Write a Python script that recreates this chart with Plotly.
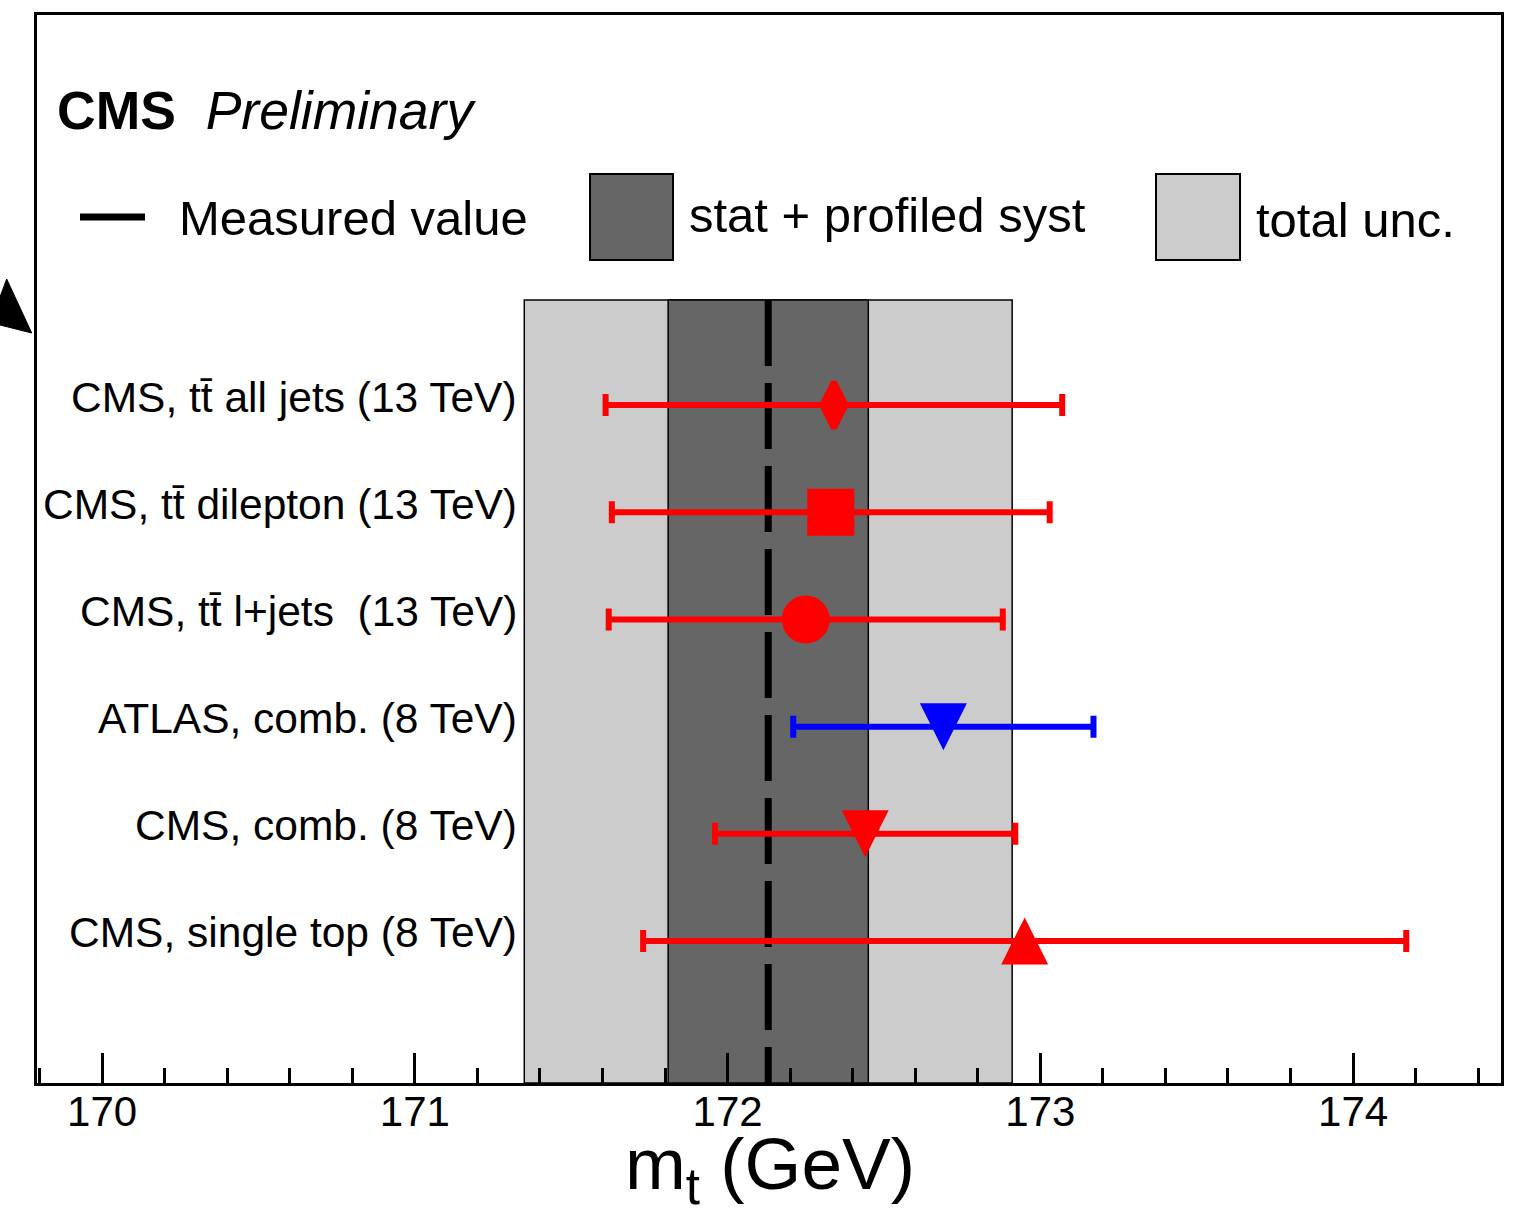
import plotly.graph_objects as go

# ---------------- data ----------------
categories = [
    "CMS, tt\u0304 all jets (13 TeV)",
    "CMS, tt\u0304 dilepton (13 TeV)",
    "CMS, tt\u0304 l+jets \u00a0(13 TeV)",
    "ATLAS, comb. (8 TeV)",
    "CMS, comb. (8 TeV)",
    "CMS, single top (8 TeV)",
]
values = [172.34, 172.33, 172.25, 172.69, 172.44, 172.95]
err_plus = [0.73, 0.70, 0.63, 0.48, 0.48, 1.22]
err_minus = [0.73, 0.70, 0.63, 0.48, 0.48, 1.22]
colors = ["#ff0000", "#ff0000", "#ff0000", "#0000ff", "#ff0000", "#ff0000"]

measured = 172.13
stat_prof_unc = 0.32
total_unc = 0.78

x_ticks = [170, 171, 172, 173, 174]
x_title = "m<sub>t</sub> (GeV)"

# ---------------- styles ----------------
FONT = "Liberation Sans, Arial, Helvetica, sans-serif"
W, H = 1538, 1211
ML, MR, MT, MB = 37, 37, 15, 128
PW, PH = W - ML - MR, H - MT - MB

def px(x):
    return (x - ML) / PW

def py(y):
    return (H - MB - y) / PH

marker_styles = [
    dict(symbol="diamond-tall", size=33, line=dict(width=6)),
    dict(symbol="square", size=47, line=dict(width=0)),
    dict(symbol="circle", size=48, line=dict(width=0)),
    dict(symbol="arrow-down", size=47, angle=0, standoff=23.5, line=dict(width=0)),
    dict(symbol="arrow-down", size=47, angle=0, standoff=23.5, line=dict(width=0)),
    dict(symbol="arrow-down", size=47, angle=180, standoff=23.5, line=dict(width=0)),
]

n = len(categories)
ypos = [n - i for i in range(n)]
y_range = [-0.325, 9.64]
band_top = 6.98

fig = go.Figure()

for i in range(n):
    ms = dict(marker_styles[i])
    line = dict(ms.pop("line"))
    line["color"] = colors[i]
    fig.add_trace(go.Scatter(
        x=[values[i]], y=[ypos[i]], mode="markers",
        marker=dict(color=colors[i], line=line, **ms),
        error_x=dict(type="data", symmetric=False, array=[err_plus[i]],
                     arrayminus=[err_minus[i]], color=colors[i],
                     thickness=6, width=11),
        showlegend=False, hoverinfo="skip",
    ))

shapes = []
# bands
shapes.append(dict(type="rect", xref="x", yref="y",
                   x0=measured - total_unc, x1=measured + total_unc,
                   y0=y_range[0], y1=band_top,
                   fillcolor="#cccccc", line=dict(color="black", width=1.5),
                   layer="below"))
shapes.append(dict(type="rect", xref="x", yref="y",
                   x0=measured - stat_prof_unc, x1=measured + stat_prof_unc,
                   y0=y_range[0], y1=band_top,
                   fillcolor="#666666", line=dict(color="black", width=1.5),
                   layer="below"))
shapes.append(dict(type="line", xref="x", yref="y",
                   x0=measured, x1=measured, y0=band_top, y1=y_range[0],
                   line=dict(color="black", width=7, dash="66px,17px"),
                   layer="below"))

# legend items
shapes.append(dict(type="line", xref="paper", yref="paper",
                   x0=px(80), x1=px(145), y0=py(217), y1=py(217),
                   line=dict(color="black", width=7)))
shapes.append(dict(type="rect", xref="paper", yref="paper",
                   x0=px(590), x1=px(673), y0=py(260), y1=py(174),
                   fillcolor="#666666", line=dict(color="black", width=2)))
shapes.append(dict(type="rect", xref="paper", yref="paper",
                   x0=px(1156), x1=px(1240), y0=py(260), y1=py(174),
                   fillcolor="#cccccc", line=dict(color="black", width=2)))

# stray arrow tip at left edge
pts = [(6.7, 279), (31.7, 333), (0, 325), (0, 297)]
path = "M " + " L ".join(f"{px(a):.5f},{py(b):.5f}" for a, b in pts) + " Z"
shapes.append(dict(type="path", xref="paper", yref="paper", path=path,
                   fillcolor="black", line=dict(color="black", width=1)))

annotations = []
for i in range(n):
    annotations.append(dict(
        x=measured - total_unc, y=ypos[i], xref="x", yref="y",
        text=categories[i], showarrow=False, xanchor="right", yanchor="middle",
        xshift=-5, yshift=8, font=dict(family=FONT, size=42.5, color="black")))

annotations += [
    dict(x=px(55), y=py(110), xref="paper", yref="paper", showarrow=False,
         xanchor="left", yanchor="middle",
         text="<b>CMS</b>  <i>Preliminary</i>",
         font=dict(family=FONT, size=53.5, color="black")),
    dict(x=px(177), y=py(218), xref="paper", yref="paper", showarrow=False,
         xanchor="left", yanchor="middle", text="Measured value",
         font=dict(family=FONT, size=49, color="black")),
    dict(x=px(687), y=py(215), xref="paper", yref="paper", showarrow=False,
         xanchor="left", yanchor="middle", text="stat + profiled syst",
         font=dict(family=FONT, size=49, color="black")),
    dict(x=px(1254), y=py(220), xref="paper", yref="paper", showarrow=False,
         xanchor="left", yanchor="middle", text="total unc.",
         font=dict(family=FONT, size=49, color="black")),
    dict(x=px(770), y=py(1169), xref="paper", yref="paper", showarrow=False,
         xanchor="center", yanchor="middle", text=x_title,
         font=dict(family=FONT, size=73, color="black")),
]

fig.update_layout(
    width=W, height=H,
    margin=dict(l=ML, r=MR, t=MT, b=MB, autoexpand=False),
    paper_bgcolor="white", plot_bgcolor="white",
    shapes=shapes, annotations=annotations,
    xaxis=dict(
        range=[169.792, 174.473], tickvals=x_ticks,
        ticktext=[str(t) for t in x_ticks],
        ticks="inside", ticklen=30, tickwidth=2.5, tickcolor="black",
        minor=dict(dtick=0.2, tick0=170, ticks="inside", ticklen=15,
                   tickwidth=2.5, tickcolor="black", showgrid=False),
        showgrid=False, zeroline=False, automargin=False,
        showline=True, linewidth=3, linecolor="black", mirror=True,
        ticklabelstandoff=-10,
        tickfont=dict(family=FONT, size=42, color="black"),
    ),
    yaxis=dict(
        range=y_range, showticklabels=False, ticks="", showgrid=False,
        zeroline=False, showline=True, linewidth=2.5, linecolor="black",
        mirror=True, automargin=False,
    ),
)

fig.write_html("out.html")
